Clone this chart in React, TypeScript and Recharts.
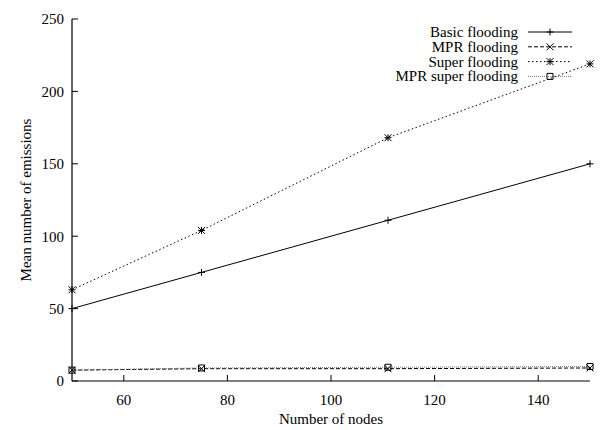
import { LineChart, Line, XAxis, YAxis, Legend, Label } from 'recharts'

const nodes = [50, 75, 111, 150]
const basicFlooding = [50, 75, 111, 150]
const mprFlooding = [7.5, 8.5, 8.5, 9]
const superFlooding = [63, 104, 168, 219]
const mprSuperFlooding = [7.5, 9, 9.5, 10]

const xTicks = [60, 80, 100, 120, 140]
const yTicks = [0, 50, 100, 150, 200, 250]

const FONT = 'Liberation Serif'

type Marker = 'plus' | 'cross' | 'star' | 'box'

const series: { key: string; name: string; marker: Marker; color: string; dash?: string }[] = [
  { key: 'basic', name: 'Basic flooding', marker: 'plus', color: '#000' },
  { key: 'mpr', name: 'MPR flooding', marker: 'cross', color: '#000', dash: '4 2' },
  { key: 'super', name: 'Super flooding', marker: 'star', color: '#000', dash: '1.5 2.5' },
  { key: 'mprSuper', name: 'MPR super flooding', marker: 'box', color: '#777', dash: '1 1' },
]

const data = nodes.map((n, i) => ({
  n,
  basic: basicFlooding[i],
  mpr: mprFlooding[i],
  super: superFlooding[i],
  mprSuper: mprSuperFlooding[i],
}))

function markerPath(m: Marker, x: number, y: number) {
  const r = 3.5
  if (m === 'plus') return `M${x - r},${y}H${x + r}M${x},${y - r}V${y + r}`
  if (m === 'cross') return `M${x - r},${y - r}L${x + r},${y + r}M${x - r},${y + r}L${x + r},${y - r}`
  if (m === 'star')
    return `M${x - r},${y}H${x + r}M${x},${y - r}V${y + r}M${x - r},${y - r}L${x + r},${y + r}M${x - r},${y + r}L${x + r},${y - r}`
  return `M${x - 3},${y - 3}H${x + 3}V${y + 3}H${x - 3}Z`
}

function dotFor(m: Marker) {
  return (p: any) => (
    <path
      key={`${m}-${p.index}`}
      d={markerPath(m, p.cx, p.cy)}
      stroke="#000"
      strokeWidth={1}
      fill="none"
    />
  )
}

function LegendBox() {
  return (
    <svg width={250} height={64} style={{ display: 'block' }}>
      {series.map((s, i) => {
        const y = 8 + i * 14.8
        return (
          <g key={s.key}>
            <text x={188} y={y} textAnchor="end" dominantBaseline="central" fontFamily={FONT} fontSize={15} fill="#000">
              {s.name}
            </text>
            <line x1={198} x2={242} y1={y} y2={y} stroke={s.color} strokeWidth={1} strokeDasharray={s.dash} />
            <path d={markerPath(s.marker, 220, y)} stroke="#000" strokeWidth={1} fill="none" />
          </g>
        )
      })}
    </svg>
  )
}

const tickStyle = { fill: '#000', fontSize: 15, fontFamily: FONT }
const axisLine = { stroke: '#000', strokeWidth: 1.2 }

export default function App() {
  return (
    <div style={{ position: 'absolute', left: 0, top: 0, width: 600, height: 430, background: '#fff' }}>
      <LineChart width={600} height={430} data={data} margin={{ top: 19, right: 10, bottom: 0, left: 0 }}>
        <XAxis
          dataKey="n"
          type="number"
          domain={[50, 150]}
          ticks={xTicks}
          tick={tickStyle}
          tickSize={-6}
          tickMargin={19}
          tickLine={{ stroke: '#000' }}
          axisLine={axisLine}
          height={49}
        >
          <Label
            content={() => (
              <text x={331} y={424} textAnchor="middle" fontFamily={FONT} fontSize={15} fill="#000">
                Number of nodes
              </text>
            )}
          />
        </XAxis>
        <XAxis
          xAxisId="top"
          orientation="top"
          dataKey="n"
          type="number"
          domain={[50, 150]}
          ticks={xTicks}
          tickFormatter={() => ''}
          tickSize={-6}
          tickLine={{ stroke: '#000' }}
          axisLine={axisLine}
          height={0}
        />
        <YAxis
          type="number"
          domain={[0, 250]}
          ticks={yTicks}
          tick={tickStyle}
          tickSize={-6}
          tickMargin={14}
          tickLine={{ stroke: '#000' }}
          axisLine={axisLine}
          width={72}
        >
          <Label
            content={() => (
              <text
                x={31}
                y={200}
                transform="rotate(-90 31 200)"
                textAnchor="middle"
                fontFamily={FONT}
                fontSize={15}
                fill="#000"
              >
                Mean number of emissions
              </text>
            )}
          />
        </YAxis>
        <YAxis
          yAxisId="right"
          orientation="right"
          type="number"
          domain={[0, 250]}
          ticks={yTicks}
          tickFormatter={() => ''}
          tickSize={-6}
          tickLine={{ stroke: '#000' }}
          axisLine={axisLine}
          width={0}
        />
        <Legend
          layout="horizontal"
          verticalAlign="middle"
          align="center"
          content={() => <LegendBox />}
          wrapperStyle={{ position: 'absolute', left: 330, top: 24, width: 250 }}
        />
        {series.map(s => (
          <Line
            key={s.key}
            dataKey={s.key}
            name={s.name}
            type="linear"
            stroke={s.color}
            strokeWidth={1}
            strokeDasharray={s.dash}
            dot={dotFor(s.marker)}
            activeDot={false}
            isAnimationActive={false}
          />
        ))}
      </LineChart>
    </div>
  )
}
